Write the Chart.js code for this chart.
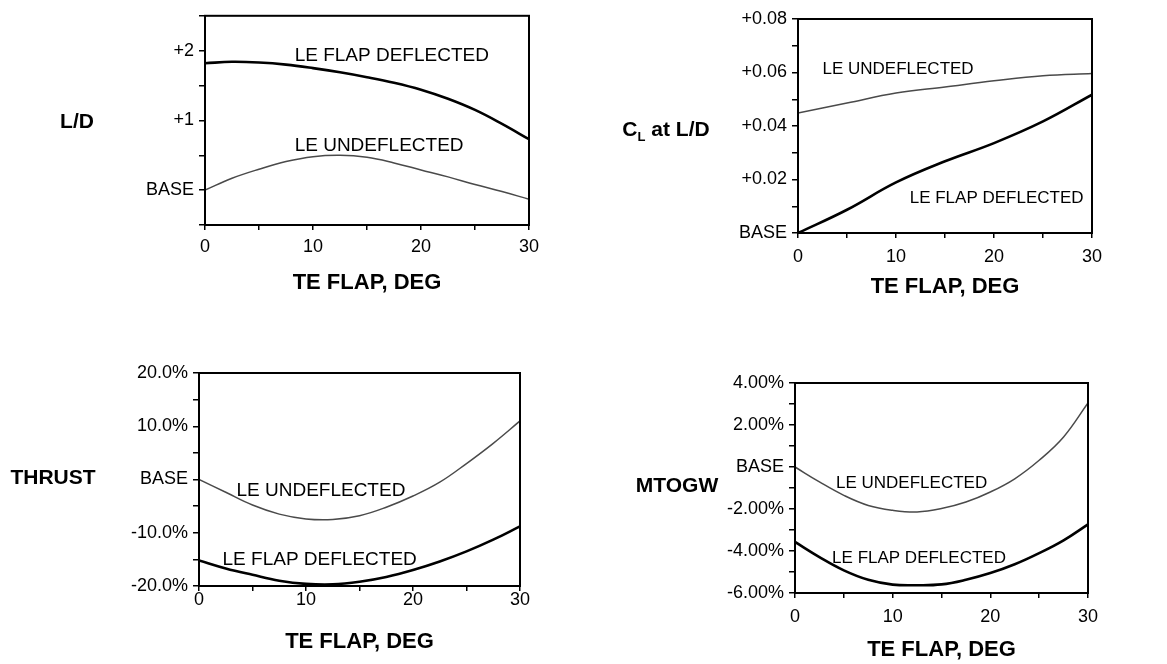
<!DOCTYPE html>
<html><head><meta charset="utf-8">
<script src="https://cdn.jsdelivr.net/npm/chart.js@4"></script>
<style>
html,body{margin:0;padding:0;background:#fff;width:1167px;height:664px;overflow:hidden}
canvas{position:absolute}
</style></head>
<body>
<canvas id="c1" width="583" height="332" style="left:0;top:0"></canvas>
<canvas id="c2" width="584" height="332" style="left:583px;top:0"></canvas>
<canvas id="c3" width="583" height="332" style="left:0;top:332px"></canvas>
<canvas id="c4" width="584" height="332" style="left:583px;top:332px"></canvas>
<script>
// ---- data ----
const teFlap = [0, 2.5, 5, 7.5, 10, 12.5, 15, 17.5, 20, 22.5, 25, 27.5, 30];
const teFlapCoarse = [0, 5, 10, 15, 20, 25, 30];

const ldFlapDeflected = [1.82, 1.84, 1.83, 1.80, 1.75, 1.69, 1.62, 1.54, 1.44, 1.31, 1.15, 0.95, 0.73];
const ldUndeflected   = [0.00, 0.17, 0.30, 0.41, 0.48, 0.50, 0.47, 0.39, 0.29, 0.19, 0.08, -0.02, -0.13];

const clFlapDeflected = [0.000, 0.0087, 0.0189, 0.0268, 0.0336, 0.0417, 0.0517];
const clUndeflected   = [0.0449, 0.0486, 0.0523, 0.0546, 0.0569, 0.0588, 0.0596];

const thrustFlapDeflected = [-15.2, -16.7, -17.9, -19.0, -19.6, -19.7, -19.2, -18.3, -17.0, -15.4, -13.5, -11.3, -8.8];
const thrustUndeflected   = [0, -2.4, -4.8, -6.5, -7.4, -7.5, -6.8, -5.2, -3.1, -0.5, 3.0, 6.8, 11.0];

const mtogwFlapDeflected = [-3.57, -4.29, -4.92, -5.37, -5.60, -5.63, -5.59, -5.37, -5.05, -4.63, -4.10, -3.49, -2.73];
const mtogwUndeflected   = [0, -0.71, -1.35, -1.83, -2.06, -2.14, -1.98, -1.67, -1.19, -0.56, 0.32, 1.43, 3.05];

const xTickLabels = [[0, '0'], [10, '10'], [20, '20'], [30, '30']];
const ldTickLabels = [[0, 'BASE'], [1, '+1'], [2, '+2']];
const clTickLabels = [[0, 'BASE'], [0.02, '+0.02'], [0.04, '+0.04'], [0.06, '+0.06'], [0.08, '+0.08']];
const thrustTickLabels = [[-20, '-20.0%'], [-10, '-10.0%'], [0, 'BASE'], [10, '10.0%'], [20, '20.0%']];
const mtogwTickLabels = [[-6, '-6.00%'], [-4, '-4.00%'], [-2, '-2.00%'], [0, 'BASE'], [2, '2.00%'], [4, '4.00%']];

const seriesNames = ['LE FLAP DEFLECTED', 'LE UNDEFLECTED'];
const xAxisTitle = 'TE FLAP, DEG';

// ---- layout / style ----
const FONT = '"Liberation Sans", Arial, Helvetica, sans-serif';
const panels = [
  { id: 'c1', cx: 0, cy: 0, w: 583, h: 332, area: { l: 205, t: 12, r: 529, b: 225 },
    y: { min: -0.5, max: 2.5, step: 0.5 }, yTicks: ldTickLabels, xs: teFlap,
    def: ldFlapDeflected, und: ldUndeflected,
    title: [{ t: 'L/D' }], titleC: [77, 122], xTitleY: 283, xPad: 6, labelSize: 19,
    labels: [{ s: 0, x: 8.3, y: 1.93 }, { s: 1, x: 8.3, y: 0.63 }] },
  { id: 'c2', cx: 583, cy: 0, w: 584, h: 332, area: { l: 798, t: 19, r: 1092, b: 233 },
    y: { min: 0, max: 0.08, step: 0.01 }, yTicks: clTickLabels, xs: teFlapCoarse,
    def: clFlapDeflected, und: clUndeflected,
    title: [{ t: 'C' }, { t: 'L', sub: true }, { t: ' at L/D' }], titleC: [666, 130], xTitleY: 287, xPad: 8, labelSize: 17,
    labels: [{ s: 0, x: 11.4, y: 0.0131 }, { s: 1, x: 2.5, y: 0.0613 }] },
  { id: 'c3', cx: 0, cy: 332, w: 583, h: 332, area: { l: 199, t: 373, r: 520, b: 586 },
    y: { min: -20, max: 20, step: 5 }, yTicks: thrustTickLabels, xs: teFlap,
    def: thrustFlapDeflected, und: thrustUndeflected,
    title: [{ t: 'THRUST' }], titleC: [53, 478], xTitleY: 642, xPad: -2, labelSize: 19,
    labels: [{ s: 0, x: 2.2, y: -15.0 }, { s: 1, x: 3.5, y: -2.2 }] },
  { id: 'c4', cx: 583, cy: 332, w: 584, h: 332, area: { l: 795, t: 383, r: 1088, b: 593 },
    y: { min: -6, max: 4, step: 1 }, yTicks: mtogwTickLabels, xs: teFlap,
    def: mtogwFlapDeflected, und: mtogwUndeflected,
    title: [{ t: 'MTOGW' }], titleC: [677, 486], xTitleY: 650, xPad: 8, labelSize: 17,
    labels: [{ s: 0, x: 3.8, y: -4.33 }, { s: 1, x: 4.2, y: -0.79 }] }
];

function lookup(list, v) {
  for (const [k, lab] of list) if (Math.abs(k - v) < 1e-7) return lab;
  return '';
}

const Y_W = 90, X_H = 30;

const decor = {
  id: 'decor',
  afterDatasetsDraw(chart, args, opts) {
    const p = opts.panel;
    const ctx = chart.ctx, a = chart.chartArea;
    ctx.save();
    ctx.strokeStyle = '#000';
    ctx.lineWidth = 2;
    ctx.strokeRect(a.left, a.top, a.right - a.left, a.bottom - a.top);
    // curve labels
    ctx.fillStyle = '#000';
    ctx.font = p.labelSize + 'px ' + FONT;
    ctx.textAlign = 'left';
    ctx.textBaseline = 'middle';
    const xs = chart.scales.x, ys = chart.scales.y;
    for (const L of p.labels) {
      ctx.fillText(seriesNames[L.s], xs.getPixelForValue(L.x), ys.getPixelForValue(L.y));
    }
    // x title
    ctx.font = 'bold 22px ' + FONT;
    ctx.textAlign = 'center';
    ctx.fillText(xAxisTitle, (a.left + a.right) / 2, p.xTitleY - p.cy);
    // y title (with optional subscript)
    const big = 'bold 21px ' + FONT, small = 'bold 13px ' + FONT;
    let total = 0;
    for (const seg of p.title) { ctx.font = seg.sub ? small : big; total += ctx.measureText(seg.t).width; }
    let x = p.titleC[0] - p.cx - total / 2;
    const y = p.titleC[1] - p.cy;
    ctx.textAlign = 'left';
    for (const seg of p.title) {
      ctx.font = seg.sub ? small : big;
      ctx.fillText(seg.t, x, seg.sub ? y + 7 : y);
      x += ctx.measureText(seg.t).width;
    }
    ctx.restore();
  }
};

for (const p of panels) {
  const a = p.area;
  const padding = {
    left: a.l - p.cx - Y_W,
    top: a.t - p.cy,
    right: p.cx + p.w - a.r,
    bottom: p.cy + p.h - a.b - X_H
  };
  new Chart(document.getElementById(p.id), {
    type: 'line',
    data: {
      datasets: [
        { label: seriesNames[0], data: p.xs.map((x, i) => ({ x, y: p.def[i] })),
          borderColor: '#000', borderWidth: 2.6, pointRadius: 0, tension: 0.4, fill: false },
        { label: seriesNames[1], data: p.xs.map((x, i) => ({ x, y: p.und[i] })),
          borderColor: '#4a4a4a', borderWidth: 1.5, pointRadius: 0, tension: 0.4, fill: false }
      ]
    },
    options: {
      responsive: false, animation: false, devicePixelRatio: 1,
      layout: { padding },
      plugins: { legend: { display: false }, tooltip: { enabled: false }, decor: { panel: p } },
      scales: {
        x: {
          type: 'linear', min: 0, max: 30,
          afterFit: s => { s.height = X_H; },
          border: { display: false },
          grid: { display: true, drawOnChartArea: false, drawTicks: true, tickLength: 5, color: '#000', lineWidth: 1.5 },
          ticks: { stepSize: 5, autoSkip: false, maxRotation: 0, padding: p.xPad, color: '#000',
                   font: { family: FONT, size: 18 },
                   callback: v => lookup(xTickLabels, v) }
        },
        y: {
          type: 'linear', min: p.y.min, max: p.y.max,
          afterFit: s => { s.width = Y_W; },
          border: { display: false },
          grid: { display: true, drawOnChartArea: false, drawTicks: true, tickLength: 6, color: '#000', lineWidth: 1.5 },
          ticks: { stepSize: p.y.step, autoSkip: false, padding: 5, color: '#000',
                   font: { family: FONT, size: 18 },
                   callback: v => lookup(p.yTicks, v) }
        }
      }
    },
    plugins: [decor]
  });
}
</script>
</body></html>
